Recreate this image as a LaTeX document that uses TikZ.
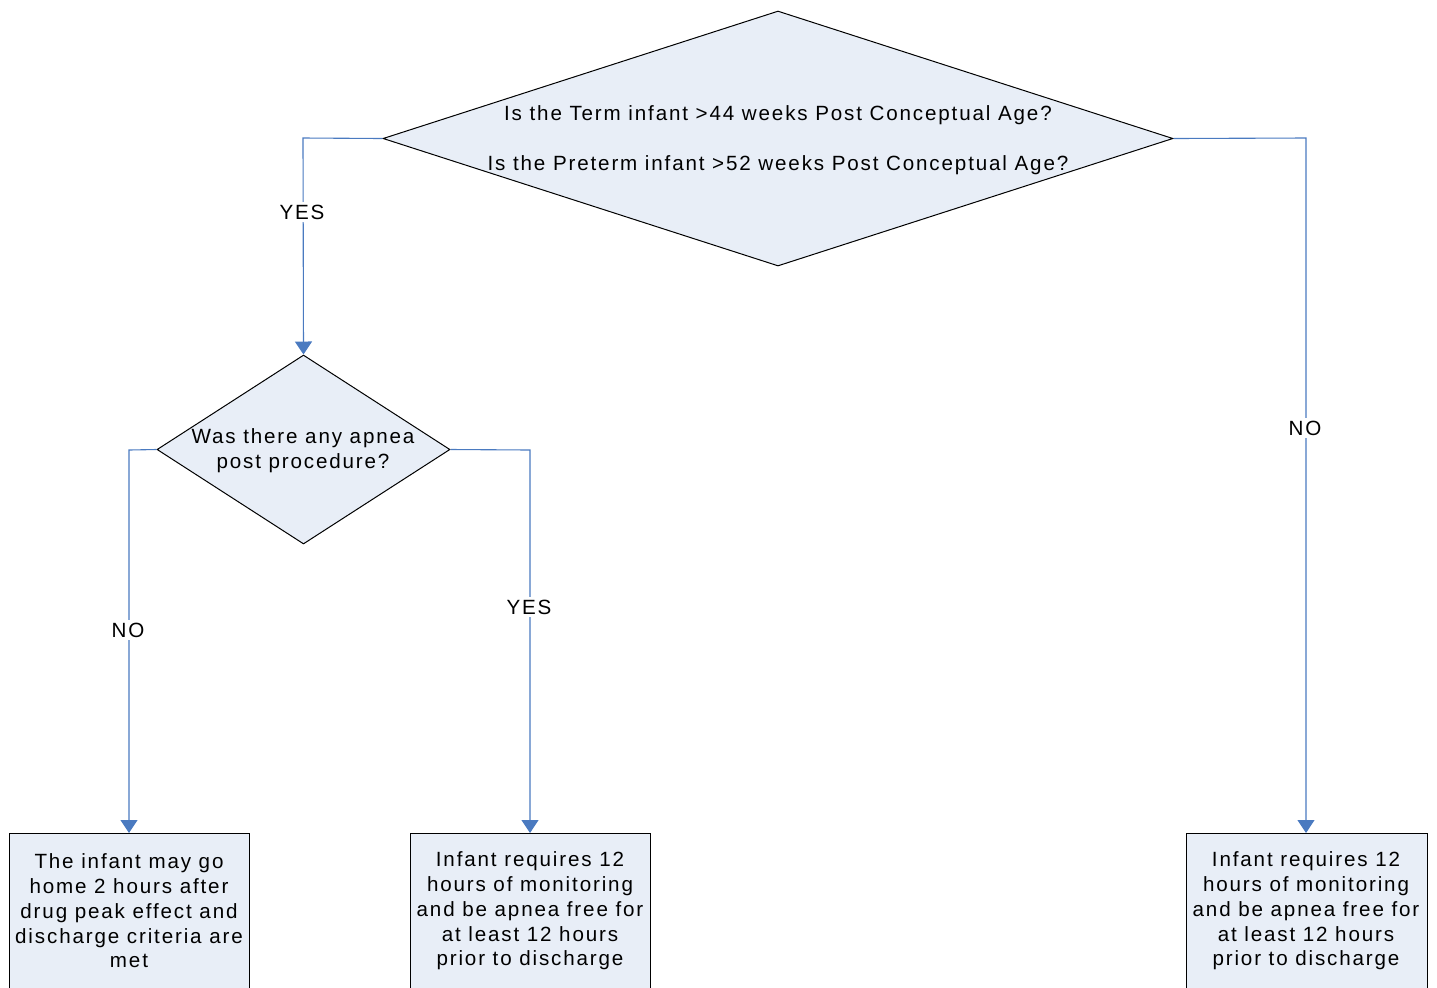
\documentclass[tikz,border=0pt]{standalone}
\usepackage{fontspec}
\setmainfont{Liberation Sans}[LetterSpace=9]
\usetikzlibrary{shapes.geometric,arrows.meta}
\definecolor{flowblue}{RGB}{74,122,192}
\definecolor{shapefill}{RGB}{232,238,247}
\tikzset{
  decision/.style={diamond, draw=black, fill=shapefill, line width=0.5pt, inner sep=0pt, aspect=1},
  outcome/.style={rectangle, draw=black, fill=shapefill, line width=0.5pt, inner sep=0pt, anchor=north},
  txt/.style={align=center, inner sep=0pt, font=\fontsize{10.3}{12.35}\selectfont},
  flow/.style={draw=flowblue, line width=0.55pt, -{Triangle[width=8.5pt,length=6.5pt]}},
  lab/.style={fill=white, inner sep=1.2pt, font=\fontsize{10.3}{11}\selectfont}
}
\begin{document}
\begin{tikzpicture}[x=0.5pt,y=-0.5pt]
\useasboundingbox (0,0) rectangle (1437,987);
% decisions
\node[decision, minimum width=395pt, minimum height=127.5pt] (d1) at (778,138.5) {};
\node[txt] (d1t) at (778,140) {Is the Term infant >44 weeks Post Conceptual Age?\\[12.35pt]Is the Preterm infant >52 weeks Post Conceptual Age?};
\node[decision, minimum width=146.5pt, minimum height=94.5pt] (d2) at (303.5,449.5) {};
\node[txt] (d2t) at (303,450.5) {Was there any apnea\\post procedure?};
% outcome boxes
\node[outcome, minimum width=120pt, minimum height=90pt] (b1) at (129,833) {};
\node[txt] (b1t) at (129,911) {The infant may go\\home 2 hours after\\drug peak effect and\\discharge criteria are\\met};
\node[outcome, minimum width=120pt, minimum height=90pt] (b2) at (530,833) {};
\node[txt] (b2t) at (530,911) {Infant requires 12\\hours of monitoring\\and be apnea free for\\at least 12 hours\\prior to discharge};
\node[outcome, minimum width=120.5pt, minimum height=90pt] (b3) at (1306.5,833) {};
\node[txt] (b3t) at (1306,911) {Infant requires 12\\hours of monitoring\\and be apnea free for\\at least 12 hours\\prior to discharge};
% connectors
\coordinate (c1) at (303,138);
\coordinate (c2) at (1306,138);
\coordinate (c3) at (129,450);
\coordinate (c4) at (530,450);
\draw[flow] (d1.west) -- (c1) -- (d2.north);
\draw[flow] (d1.east) -- (c2) -- (c2 |- b3.north);
\draw[flow] (d2.west) -- (c3) -- (c3 |- b1.north);
\draw[flow] (d2.east) -- (c4) -- (c4 |- b2.north);
% labels
\node[lab] (l1) at (302,212) {YES};
\node[lab] (l2) at (1305,428) {NO};
\node[lab] (l3) at (128,630) {NO};
\node[lab] (l4) at (529,607) {YES};
\end{tikzpicture}
\end{document}
